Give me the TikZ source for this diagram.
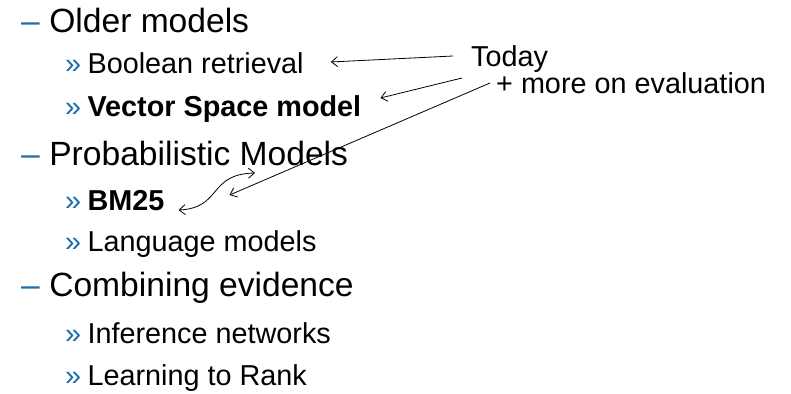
\documentclass[tikz,border=0pt]{standalone}
\usepackage{fontspec}
\setmainfont{Liberation Sans}
\usetikzlibrary{arrows.meta}

\definecolor{bulletblue}{HTML}{1B6EA8}

\tikzset{
    headitem/.style={anchor=base west, inner sep=0pt, font=\fontsize{33.6}{40}\selectfont},
    subitem/.style={anchor=base west, inner sep=0pt, font=\fontsize{28.8}{34}\selectfont},
    note/.style={anchor=base west, inner sep=0pt, font=\fontsize{28.8}{34}\selectfont},
    pointer/.style={line width=0.8pt, -{Straight Barb[length=6pt,width=10pt]}},
    twoway/.style={line width=0.8pt, {Straight Barb[length=6pt,width=10pt]}-{Straight Barb[length=6pt,width=10pt]}},
}

\newcommand{\dashmark}{\textcolor{bulletblue}{--}\hspace{0.28em}}
\newcommand{\subbullet}{\textcolor{bulletblue}{\guillemotright}\hspace{0.22em}}

\begin{document}
\begin{tikzpicture}[x=1pt, y=-1pt]
    \useasboundingbox (0, 0) rectangle (791, 393);

    % left column: the outline
    \node[headitem] (older) at (21, 33)  {\dashmark Older models};
    \node[subitem]  (bool)  at (65, 74)  {\subbullet Boolean retrieval};
    \node[subitem]  (vsm)   at (65, 117) {\subbullet\textbf{Vector Space model}};
    \node[headitem] (prob)  at (21, 165) {\dashmark Probabilistic Models};
    \node[subitem]  (bm)    at (65, 210) {\subbullet\textbf{BM25}};
    \node[subitem]  (lang)  at (65, 251) {\subbullet Language models};
    \node[headitem] (comb)  at (21, 296) {\dashmark Combining evidence};
    \node[subitem]  (infer) at (65, 343) {\subbullet Inference networks};
    \node[subitem]  (rank)  at (65, 385) {\subbullet Learning to Rank};

    % right side notes
    \node[note] (today) at (471, 67) {Today};
    \node[note] (more)  at (496, 93) {+ more on evaluation};

    % pointers back to the items
    \draw[pointer] ([shift={(-18, -11)}]today.base west) -- ([shift={(27, -12)}]bool.base east);
    \draw[pointer] ([shift={(-9, 11)}]today.base west) -- ([shift={(19, -19)}]vsm.base east);
    \draw[pointer] ([shift={(-6, -10)}]more.base west) -- ([shift={(65, -15)}]bm.base east);
    \draw[twoway] ([shift={(14, 0)}]bm.base east)
        .. controls (222, 208) and (208, 174) .. ([shift={(234, 8)}]prob.base west);
\end{tikzpicture}
\end{document}
